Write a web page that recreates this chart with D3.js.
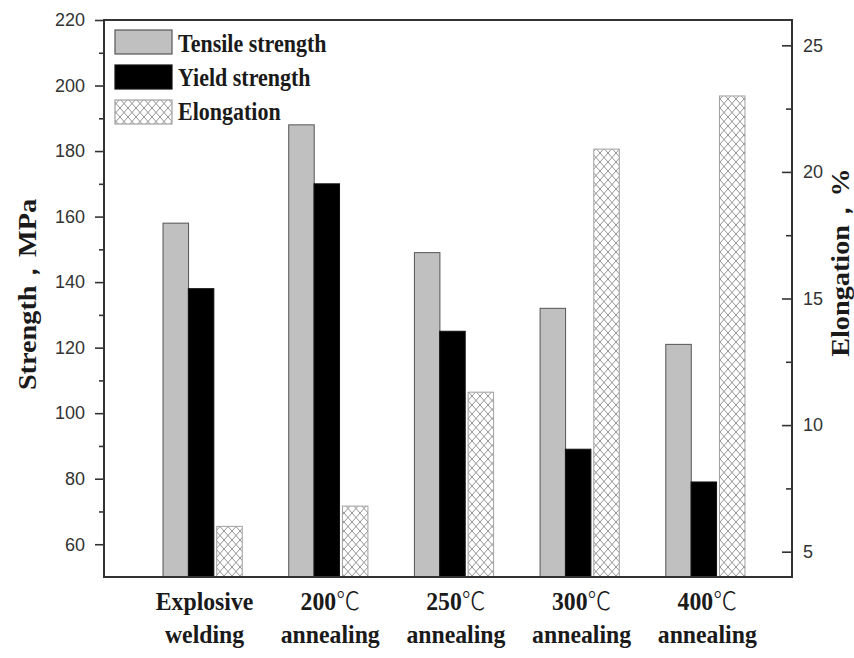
<!DOCTYPE html>
<html>
<head>
<meta charset="utf-8">
<script src="https://cdn.jsdelivr.net/npm/d3@7"></script>
<style>
  html, body { margin: 0; padding: 0; background: #fff; }
  svg { display: block; }
</style>
</head>
<body>
<svg id="chart" width="854" height="658"></svg>
<script>
// Mechanical properties of the welded plate before and after annealing
const categories = ["Explosive welding", "200℃ annealing", "250℃ annealing", "300℃ annealing", "400℃ annealing"];
const categoryLines = [["Explosive", "welding"], ["200℃", "annealing"], ["250℃", "annealing"], ["300℃", "annealing"], ["400℃", "annealing"]];
const tensileStrength = [158, 188, 149, 132, 121];   // MPa
const yieldStrength   = [138, 170, 125, 89, 79];     // MPa
const elongation      = [6.0, 6.8, 11.3, 20.9, 23.0]; // %
const strengthTicks   = [60, 80, 100, 120, 140, 160, 180, 200, 220];
const strengthMinor   = [70, 90, 110, 130, 150, 170, 190, 210];
const elongTicks      = [5, 10, 15, 20, 25];
const elongMinor      = [7.5, 12.5, 17.5, 22.5];
const seriesNames     = ["Tensile strength", "Yield strength", "Elongation"];

const svg = d3.select("#chart");
const plotLeft = 104, plotRight = 792, plotTop = 20, plotBottom = 577;
const stretchY = 1.12;

const x  = d3.scaleLinear().domain([0.216, 5.69]).range([plotLeft, plotRight]);
const yL = d3.scaleLinear().domain([50, 220]).range([plotBottom, plotTop]);
const yR = d3.scaleLinear().domain([4, 26]).range([plotBottom, plotTop]);

// crosshatch fill for elongation bars
const defs = svg.append("defs");
const pat = defs.append("pattern")
  .attr("id", "hatch").attr("patternUnits", "userSpaceOnUse")
  .attr("width", 8).attr("height", 9);
pat.append("rect").attr("width", 8).attr("height", 9).attr("fill", "#fff");
pat.append("path").attr("d", "M0,0 L8,9 M8,0 L0,9 M-1,8 L1,10 M7,-1 L9,1")
  .attr("stroke", "#949494").attr("stroke-width", 1).attr("fill", "none");

// bar layout relative to each group centre (px)
const barW = 25.5;
const offsets = { tensile: -39.5, yield: -14.2, elong: 14.2 };
const groups = categories.map((c, i) => ({
  c, i,
  t: tensileStrength[i], y: yieldStrength[i], e: elongation[i]
}));

const bars = svg.append("g");
bars.selectAll("rect.t").data(groups).join("rect").attr("class", "t")
  .attr("x", d => x(d.i + 1) + offsets.tensile)
  .attr("y", d => yL(d.t))
  .attr("width", barW)
  .attr("height", d => plotBottom - yL(d.t))
  .attr("fill", "#c0c0c0").attr("stroke", "#555").attr("stroke-width", 1);
bars.selectAll("rect.y").data(groups).join("rect").attr("class", "y")
  .attr("x", d => x(d.i + 1) + offsets.yield)
  .attr("y", d => yL(d.y))
  .attr("width", barW)
  .attr("height", d => plotBottom - yL(d.y))
  .attr("fill", "#000").attr("stroke", "#111").attr("stroke-width", 1);
bars.selectAll("rect.e").data(groups).join("rect").attr("class", "e")
  .attr("x", d => x(d.i + 1) + offsets.elong)
  .attr("y", d => yR(d.e))
  .attr("width", barW)
  .attr("height", d => plotBottom - yR(d.e))
  .attr("fill", "url(#hatch)").attr("stroke", "#a0a0a0").attr("stroke-width", 1);

// axes
const tickFont = g => g.selectAll("text")
  .attr("font-family", "'Liberation Sans', Arial, sans-serif")
  .attr("font-size", 18).attr("fill", "#333");

svg.append("g").attr("transform", `translate(${plotLeft},0)`)
  .call(d3.axisLeft(yL).tickValues(strengthTicks).tickSize(9).tickSizeOuter(0).tickPadding(10))
  .call(tickFont);
svg.append("g").attr("transform", `translate(${plotLeft},0)`)
  .call(d3.axisLeft(yL).tickValues(strengthMinor).tickSize(5).tickSizeOuter(0).tickFormat(""));
svg.append("g").attr("transform", `translate(${plotRight},0)`)
  .call(d3.axisRight(yR).tickValues(elongTicks).tickSize(-10).tickSizeOuter(0).tickPadding(11))
  .call(tickFont);
svg.append("g").attr("transform", `translate(${plotRight},0)`)
  .call(d3.axisRight(yR).tickValues(elongMinor).tickSize(-6).tickSizeOuter(0).tickFormat(""));
svg.selectAll(".domain").remove();
svg.selectAll(".tick line").attr("stroke", "#333").attr("stroke-width", 1.6);

// frame
svg.append("rect")
  .attr("x", plotLeft).attr("y", plotTop)
  .attr("width", plotRight - plotLeft).attr("height", plotBottom - plotTop)
  .attr("fill", "none").attr("stroke", "#333").attr("stroke-width", 2);

// category labels; the degree sign is set in a light CJK face
const serif = "'Liberation Serif', 'Times New Roman', serif";
const xl = svg.append("g");
categoryLines.forEach((lines, i) => {
  lines.forEach((s, k) => {
    const t = xl.append("g")
      .attr("transform", `translate(${x(i + 1) + 2},${610 + k * 33}) scale(1.08,${stretchY})`)
      .append("text")
      .attr("text-anchor", "middle")
      .attr("font-family", serif).attr("font-weight", "bold")
      .attr("font-size", 22).attr("fill", "#1a1a1a");
    const parts = s.split("℃");
    t.append("tspan").text(parts[0]);
    if (parts.length > 1) {
      t.append("tspan")
        .attr("font-family", "'Noto Sans CJK SC', sans-serif")
        .attr("font-weight", "300")
        .text("℃");
    }
  });
});

// axis titles
svg.append("g").attr("transform", `translate(36,294.5) rotate(-90) scale(1.13,1)`)
  .append("text").attr("text-anchor", "middle")
  .attr("font-family", serif).attr("font-weight", "bold")
  .attr("font-size", 25).attr("fill", "#1a1a1a")
  .text("Strength，MPa");
svg.append("g").attr("transform", `translate(849,262.5) rotate(-90) scale(1.13,1)`)
  .append("text").attr("text-anchor", "middle")
  .attr("font-family", serif).attr("font-weight", "bold")
  .attr("font-size", 25).attr("fill", "#1a1a1a")
  .text("Elongation，%");

// legend
const legendFills = ["#c0c0c0", "#000", "url(#hatch)"];
const legendStrokes = ["#555", "#111", "#a0a0a0"];
const lg = svg.append("g");
seriesNames.forEach((name, i) => {
  lg.append("rect")
    .attr("x", 115).attr("y", 30 + i * 35)
    .attr("width", 57).attr("height", 24)
    .attr("fill", legendFills[i]).attr("stroke", legendStrokes[i]).attr("stroke-width", 1.2);
  lg.append("g")
    .attr("transform", `translate(178,${51.5 + i * 34}) scale(1,${stretchY})`)
    .append("text")
    .attr("font-family", serif).attr("font-weight", "bold")
    .attr("font-size", 22).attr("fill", "#1a1a1a")
    .text(name);
});
</script>
</body>
</html>
